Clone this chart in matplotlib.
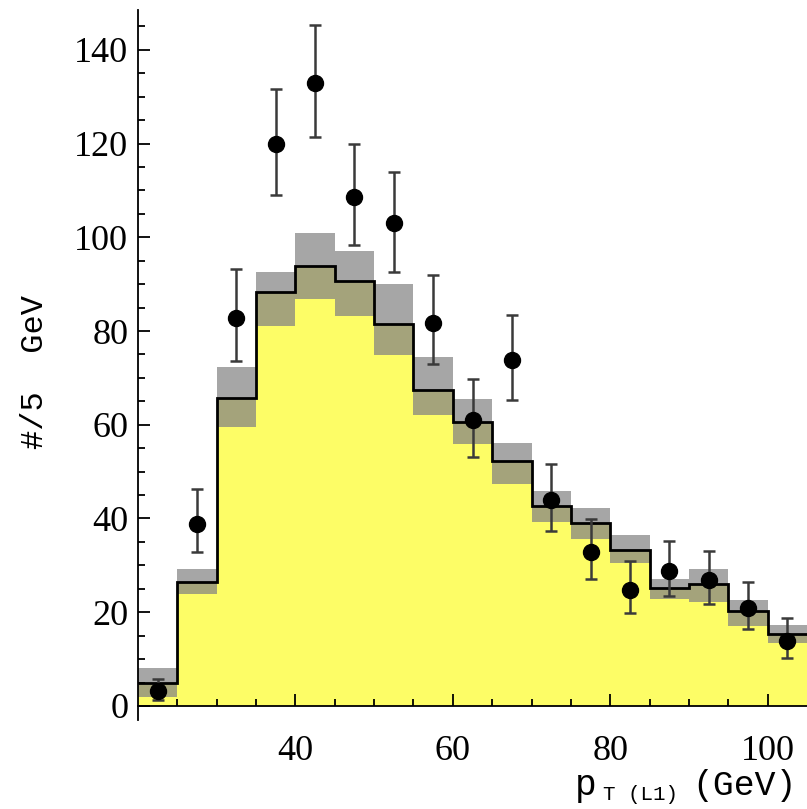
import numpy as np
import matplotlib
matplotlib.use("Agg")
import matplotlib.pyplot as plt
from matplotlib.ticker import MultipleLocator, FixedLocator

# 5 GeV bins of the leading-lepton pT
edges = np.arange(20, 106, 5)
centers = edges[:-1] + 2.5

# expected counts: central value and its band
expected = [4.9, 26.4, 65.7, 88.3, 93.8, 90.6, 81.4, 67.4, 60.6,
            52.2, 42.6, 39.0, 33.3, 25.2, 26.0, 20.3, 15.4]
band_hi = [8.2, 29.2, 72.3, 92.5, 100.9, 97.0, 90.0, 74.4, 65.5,
           56.1, 45.8, 42.2, 36.5, 27.1, 29.2, 22.6, 17.3]
band_lo = [1.9, 23.8, 59.5, 81.0, 86.8, 83.2, 74.8, 62.0, 55.9,
           47.4, 39.2, 35.6, 30.5, 22.8, 22.2, 17.1, 13.4]

# observed counts with error bar ends
observed = [3.2, 38.8, 82.7, 120.0, 133.0, 108.7, 103.0, 81.7, 61.0,
            73.9, 43.9, 32.8, 24.7, 28.8, 26.9, 20.9, 13.9]
obs_top = [5.8, 46.3, 93.2, 131.6, 145.2, 120.0, 113.9, 91.9, 69.7,
           83.4, 51.6, 39.9, 30.9, 35.2, 33.0, 26.4, 18.8]
obs_bot = [1.2, 32.8, 73.6, 109.0, 121.3, 98.3, 92.5, 73.0, 53.1,
           65.2, 37.3, 27.1, 19.8, 23.5, 21.7, 16.4, 10.2]

yellow = "#fdfd66"
grey = "#a6a6a6"
olive = "#a4a37b"

fig = plt.figure(figsize=(8.07, 8.09), dpi=100)
ax = fig.add_axes([138 / 807, 89 / 809, 669 / 807, 710 / 809])

ax.stairs(band_lo, edges, baseline=0, fill=True, color=yellow, zorder=1)
ax.stairs(expected, edges, baseline=band_lo, fill=True, color=olive, zorder=1)
ax.stairs(band_hi, edges, baseline=expected, fill=True, color=grey, zorder=1)
ax.stairs(expected, edges, baseline=None, color="black", lw=2.0, zorder=2)

obs = np.array(observed)
yerr = [obs - np.array(obs_bot), np.array(obs_top) - obs]
ax.errorbar(centers, obs, yerr=yerr, fmt="none", ecolor="#3a3a3a",
            elinewidth=1.8, capsize=4, capthick=1.8, zorder=3)
ax.plot(centers, obs, "o", color="black", ms=11.5, zorder=4)

ax.set_xlim(20, 105)
ax.set_ylim(-3, 148.5)

for s in ["top", "right"]:
    ax.spines[s].set_visible(False)
ax.spines["bottom"].set_position(("data", 0))
ax.spines["left"].set_linewidth(1.3)
ax.spines["bottom"].set_linewidth(1.3)

ax.xaxis.set_major_locator(FixedLocator([40, 60, 80, 100]))
ax.xaxis.set_minor_locator(FixedLocator(np.arange(25, 105, 5)))
ax.yaxis.set_major_locator(MultipleLocator(20))
ax.yaxis.set_minor_locator(MultipleLocator(5))
ax.set_yticks(np.arange(0, 141, 20))

ax.tick_params(axis="both", which="both", direction="in", width=1.3)
ax.tick_params(axis="both", which="major", length=8.5)
ax.tick_params(axis="both", which="minor", length=5)
ax.tick_params(axis="x", which="major", pad=21)
ax.tick_params(axis="y", which="major", pad=7)
for lab in ax.get_xticklabels() + ax.get_yticklabels():
    lab.set_fontfamily("Liberation Serif")
    lab.set_fontsize(26)

mono = "Liberation Mono"
fig.text(35 / 807, 1 - 372 / 809, "#/5  GeV", rotation=90, ha="center",
         va="center", family=mono, fontsize=23)
fig.text(586 / 807, 1 - 795 / 809, "p", ha="center", va="baseline",
         family=mono, fontsize=26)
fig.text(603 / 807, 1 - 800 / 809, "T (L1)", ha="left", va="baseline",
         family=mono, fontsize=15)
fig.text(744 / 807, 1 - 795 / 809, "(GeV)", ha="center", va="baseline",
         family=mono, fontsize=25)

fig.savefig("out.png", dpi=100)
